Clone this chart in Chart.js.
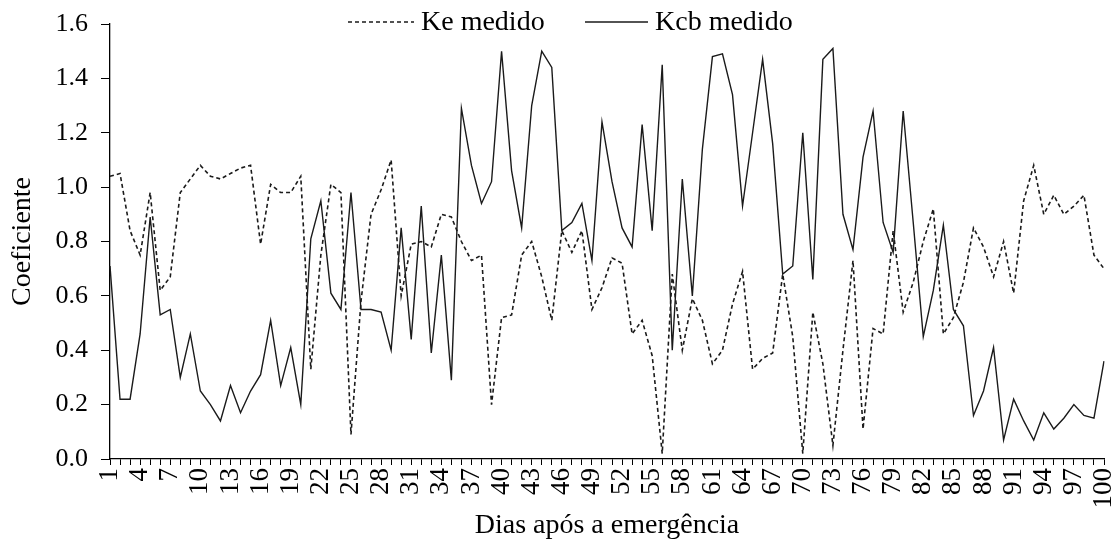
<!DOCTYPE html>
<html>
<head>
<meta charset="utf-8">
<script src="https://cdn.jsdelivr.net/npm/chart.js@4.4.0/dist/chart.umd.min.js"></script>
<style>
html,body{margin:0;padding:0;background:#fff;}
#wrap{width:1113px;height:540px;}
</style>
</head>
<body>
<div id="wrap"><canvas id="c" width="1113" height="540"></canvas></div>
<script>
const days = [1,2,3,4,5,6,7,8,9,10,11,12,13,14,15,16,17,18,19,20,21,22,23,24,25,26,27,28,29,30,31,32,33,34,35,36,37,38,39,40,41,42,43,44,45,46,47,48,49,50,51,52,53,54,55,56,57,58,59,60,61,62,63,64,65,66,67,68,69,70,71,72,73,74,75,76,77,78,79,80,81,82,83,84,85,86,87,88,89,90,91,92,93,94,95,96,97,98,99,100];
const xTickLabels = ['1','4','7','10','13','16','19','22','25','28','31','34','37','40','43','46','49','52','55','58','61','64','67','70','73','76','79','82','85','88','91','94','97','100'];
const yTicks = [0.0,0.2,0.4,0.6,0.8,1.0,1.2,1.4,1.6];
const keMedido = [1.04,1.05,0.84,0.75,0.98,0.62,0.67,0.98,1.03,1.08,1.04,1.03,1.05,1.07,1.08,0.79,1.01,
  0.98,0.98,1.04,0.33,0.75,1.01,0.98,0.09,0.58,0.90,0.99,1.10,0.60,0.79,0.80,0.78,
  0.90,0.89,0.80,0.73,0.75,0.20,0.52,0.53,0.75,0.80,0.67,0.51,0.84,0.76,0.84,0.55,0.63,
  0.74,0.72,0.46,0.51,0.38,0.02,0.68,0.40,0.59,0.51,0.35,0.40,0.57,0.69,0.33,0.37,
  0.39,0.68,0.45,0.02,0.54,0.35,0.05,0.40,0.73,0.11,0.48,0.46,0.84,0.54,0.65,0.80,
  0.92,0.46,0.52,0.65,0.85,0.78,0.67,0.80,0.61,0.95,1.08,0.90,0.97,0.90,0.93,0.97,0.75,0.70];
const kcbMedido = [0.71,0.22,0.22,0.46,0.89,0.53,0.55,0.30,0.46,0.25,0.20,0.14,0.27,0.17,0.25,0.31,0.51,
  0.27,0.41,0.20,0.81,0.95,0.61,0.55,0.98,0.55,0.55,0.54,0.40,0.85,0.44,0.93,0.39,
  0.75,0.29,1.29,1.08,0.94,1.02,1.50,1.06,0.85,1.30,1.50,1.44,0.84,0.87,0.94,0.73,1.24,
  1.02,0.85,0.78,1.23,0.84,1.45,0.40,1.03,0.60,1.14,1.48,1.49,1.34,0.93,1.20,1.47,
  1.16,0.68,0.71,1.20,0.66,1.47,1.51,0.90,0.77,1.11,1.28,0.87,0.76,1.28,0.87,0.45,
  0.62,0.86,0.55,0.49,0.16,0.25,0.41,0.07,0.22,0.14,0.07,0.17,0.11,0.15,0.20,0.16,0.15,0.36];
const seriesNames = ['Ke medido','Kcb medido'];
const xTitle = 'Dias após a emergência';
const yTitle = 'Coeficiente';

const FONT = "'Liberation Serif','Times New Roman',serif";

const legendPlugin = {
  id: 'topLegend',
  afterDraw(chart) {
    const ctx = chart.ctx;
    const y = 22;
    const items = [
      {ds: chart.data.datasets[0], x0: 348, x1: 414, tx: 421},
      {ds: chart.data.datasets[1], x0: 585, x1: 648, tx: 655}
    ];
    ctx.save();
    items.forEach(it => {
      ctx.beginPath();
      ctx.setLineDash(it.ds.borderDash || []);
      ctx.lineWidth = it.ds.borderWidth;
      ctx.strokeStyle = it.ds.borderColor;
      ctx.moveTo(it.x0, y);
      ctx.lineTo(it.x1, y);
      ctx.stroke();
      ctx.setLineDash([]);
      ctx.fillStyle = '#000';
      ctx.font = '28px ' + FONT;
      ctx.textBaseline = 'middle';
      ctx.textAlign = 'left';
      ctx.fillText(it.ds.label, it.tx, y + 1);
    });
    ctx.restore();
  }
};

new Chart(document.getElementById('c'), {
  type: 'line',
  data: {
    labels: days,
    datasets: [
      {label: seriesNames[0], data: keMedido, borderColor: '#1a1a1a', borderWidth: 1.6, borderDash: [4,3], pointRadius: 0, fill: false, tension: 0},
      {label: seriesNames[1], data: kcbMedido, borderColor: '#1a1a1a', borderWidth: 1.4, pointRadius: 0, fill: false, tension: 0}
    ]
  },
  options: {
    responsive: false,
    animation: false,
    devicePixelRatio: 1,
    layout: {padding: {top: 24, right: 9, left: 0, bottom: 0}},
    plugins: {legend: {display: false}, tooltip: {enabled: false}},
    scales: {
      x: {
        type: 'category',
        offset: false,
        grid: {drawOnChartArea: false, drawTicks: true, tickLength: 6, color: '#000', lineWidth: 1},
        border: {display: true, color: '#000', width: 1.3},
        ticks: {
          autoSkip: false, minRotation: 90, maxRotation: 90, padding: 3,
          color: '#000', font: {family: FONT, size: 27},
          callback: function(v, i) { const l = String(this.getLabelForValue(v)); return xTickLabels.includes(l) ? l : ''; }
        },
        title: {display: true, text: xTitle, color: '#000', font: {family: FONT, size: 28, lineHeight: 1.0}, padding: {top: 0, bottom: 0}},
        afterFit(scale) { scale.height = 81; scale.paddingLeft = 0; scale.paddingRight = 0; }
      },
      y: {
        min: 0, max: 1.6,
        afterBuildTicks(scale) { scale.ticks = yTicks.map(v => ({value: v})); },
        grid: {drawOnChartArea: false, drawTicks: true, tickLength: 9, color: '#000', lineWidth: 1},
        border: {display: true, color: '#000', width: 1.3},
        ticks: {color: '#000', padding: 13, font: {family: FONT, size: 26}, callback: v => Number(v).toFixed(1)},
        title: {display: true, text: yTitle, color: '#000', font: {family: FONT, size: 28, lineHeight: 1.0}, padding: {top: 9, bottom: 0}},
        afterFit(scale) { scale.width = 110; scale.paddingTop = 0; scale.paddingBottom = 0; }
      }
    }
  },
  plugins: [legendPlugin]
});
</script>
</body>
</html>
